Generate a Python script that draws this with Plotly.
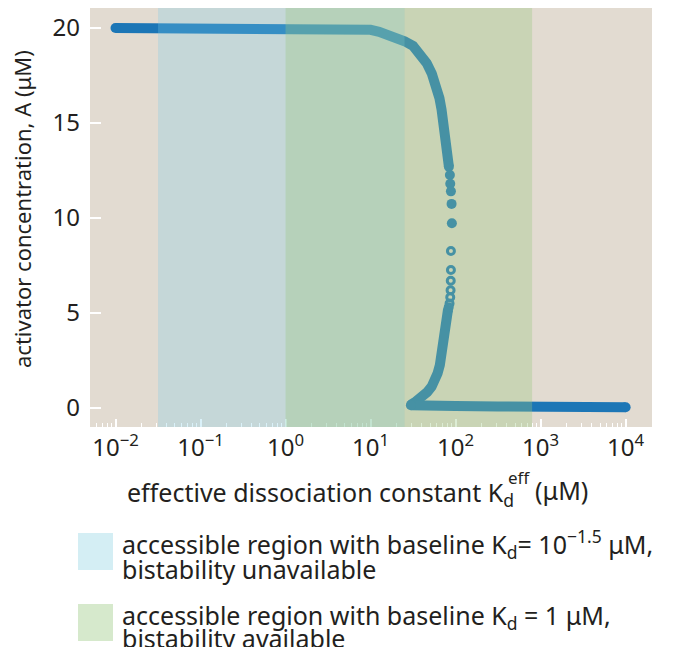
import plotly.graph_objects as go

# ---------------- data ----------------
# upper stable branch: effective Kd (uM) and activator A (uM)
upper_kd = [0.01, 0.1, 1.0, 3.16, 6.31, 10.0, 12.6, 15.8, 20.0, 25.1, 31.6, 38.0, 45.7,
            52.5, 59.7, 64.6, 68.4, 71.6, 74.8, 77.6, 80.5, 83.4]
upper_a = [20.0, 20.0, 20.0, 19.98, 19.95, 19.9, 19.8, 19.65, 19.5, 19.3, 19.05, 18.65, 18.15,
           17.6, 16.9, 16.3, 15.7, 15.1, 14.5, 13.9, 13.3, 12.7]
# sparse stable points approaching the upper fold
fold_kd = [85.7, 86.5, 88.1, 89.7, 90.4]
fold_a = [12.26, 11.8, 11.4, 10.74, 9.72]
# unstable branch, sparse open circles
unst_kd = [88.1, 88.1, 87.7, 87.3, 86.5, 84.9, 83.0]
unst_a = [8.26, 7.26, 6.7, 6.2, 5.83, 5.5, 5.3]
# unstable branch, dense part down to the lower fold
unst_dense_kd = [81.3, 78.3, 73.5, 68.4, 65.3, 61.4, 57.0, 52.2, 46.3, 41.6, 36.3, 33.1, 30.5, 29.8]
unst_dense_a = [5.16, 4.46, 3.58, 2.7, 2.26, 1.83, 1.47, 1.12, 0.83, 0.6, 0.42, 0.3, 0.2, 0.15]
# lower stable branch
lower_kd = [29.8, 39.8, 100.0, 316.0, 1000.0, 3160.0, 10000.0]
lower_a = [0.15, 0.12, 0.10, 0.08, 0.06, 0.05, 0.04]

# accessible regions (log10 of Kd bounds)
region_blue = [-1.5, 1.4]
region_green = [0.0, 2.9]

x_tick_vals = [0.01, 0.1, 1, 10, 100, 1000, 10000]
x_tick_text = ["10<sup>\u22122</sup>", "10<sup>\u22121</sup>", "10<sup>0</sup>", "10<sup>1</sup>",
               "10<sup>2</sup>", "10<sup>3</sup>", "10<sup>4</sup>"]
y_tick_vals = [0, 5, 10, 15, 20]

# ---------------- styling ----------------
FONT = "Noto Sans"
TXT = "#231f20"
CURVE = "#1c76b6"
BG = "#e2dbd1"
BIG = 24
LEG = 25

fig = go.Figure()

fig.add_trace(go.Scatter(x=upper_kd, y=upper_a, mode="lines",
                         line=dict(color=CURVE, width=10), showlegend=False))
fig.add_trace(go.Scatter(x=[upper_kd[0], upper_kd[-1]] + fold_kd, y=[upper_a[0], upper_a[-1]] + fold_a,
                         mode="markers", marker=dict(color=CURVE, size=10), showlegend=False))
fig.add_trace(go.Scatter(x=unst_dense_kd, y=unst_dense_a, mode="lines",
                         line=dict(color=CURVE, width=10), showlegend=False))
fig.add_trace(go.Scatter(x=unst_dense_kd[:1], y=unst_dense_a[:1], mode="markers",
                         marker=dict(color=CURVE, size=10), showlegend=False))
fig.add_trace(go.Scatter(x=unst_kd, y=unst_a, mode="markers",
                         marker=dict(symbol="circle-open", color=CURVE, size=7,
                                     line=dict(color=CURVE, width=3)), showlegend=False))
fig.add_trace(go.Scatter(x=lower_kd, y=lower_a, mode="lines",
                         line=dict(color=CURVE, width=10), showlegend=False))
fig.add_trace(go.Scatter(x=[lower_kd[0], lower_kd[-1]], y=[lower_a[0], lower_a[-1]], mode="markers",
                         marker=dict(color=CURVE, size=10), showlegend=False))

# shaded regions (drawn above the curve, translucent)
fig.add_shape(type="rect", xref="x", yref="paper", x0=10 ** region_blue[0], x1=10 ** region_blue[1],
              y0=0, y1=1, fillcolor="rgba(122,205,234,0.28)", line=dict(width=0), layer="above")
fig.add_shape(type="rect", xref="x", yref="paper", x0=10 ** region_green[0], x1=10 ** region_green[1],
              y0=0, y1=1, fillcolor="rgba(152,198,129,0.34)", line=dict(width=0), layer="above")

minor_vals = [k * 10 ** e for e in range(-3, 5) for k in range(2, 10)]

fig.update_xaxes(type="log", range=[-2.30, 4.31], tickmode="array", tickvals=x_tick_vals,
                 ticktext=x_tick_text, ticks="inside", ticklen=8, tickwidth=1.5, tickcolor="white",
                 showgrid=False, zeroline=False, showline=False, ticklabelstandoff=4,
                 tickfont=dict(family=FONT, size=BIG, color=TXT),
                 minor=dict(tickmode="array", tickvals=minor_vals, ticks="inside", ticklen=4,
                            tickwidth=1.2, tickcolor="white", showgrid=False))
fig.update_yaxes(range=[-1.0, 21.05], tickmode="array", tickvals=y_tick_vals,
                 ticks="inside", ticklen=11, tickwidth=1.5, tickcolor="white",
                 showgrid=False, zeroline=False, showline=False, ticklabelstandoff=9,
                 tickfont=dict(family=FONT, size=BIG, color=TXT))

L, R, T, B = 90, 28, 8, 220
W, H = 680, 647
pw, ph = W - L - R, H - T - B


def px(x):
    return (x - L) / pw


def py(y):
    return (H - B - y) / ph


ann = []
# y axis title
ann.append(dict(text="activator concentration, A (\u03bcM)", x=px(22), y=py(209), xref="paper",
                yref="paper", textangle=-90, showarrow=False, xanchor="center", yanchor="middle",
                font=dict(family=FONT, size=22, color=TXT)))
# x axis title pieces
ann.append(dict(text="effective dissociation constant K<sub>d</sub>", x=px(125), y=py(493),
                xref="paper", yref="paper", xanchor="left", yanchor="middle", showarrow=False,
                font=dict(family=FONT, size=LEG, color=TXT)))
ann.append(dict(text="eff", x=px(506), y=py(477), xref="paper", yref="paper", xanchor="left",
                yanchor="middle", showarrow=False, font=dict(family=FONT, size=17, color=TXT)))
ann.append(dict(text="(\u03bcM)", x=px(533), y=py(490), xref="paper", yref="paper", xanchor="left",
                yanchor="middle", showarrow=False, font=dict(family=FONT, size=LEG, color=TXT)))

# legend
legend_rows = [
    ("rgb(212,238,244)", 533, 570,
     "accessible region with baseline K<sub>d</sub>= 10<sup>\u22121.5</sup> \u03bcM,", 544,
     "bistability unavailable", 569),
    ("rgb(214,233,204)", 604, 641,
     "accessible region with baseline K<sub>d</sub> = 1 \u03bcM,", 616,
     "bistability available", 638),
]
for col, y0, y1, t1, ty1, t2, ty2 in legend_rows:
    fig.add_shape(type="rect", xref="paper", yref="paper", x0=px(78), x1=px(113), y0=py(y1), y1=py(y0),
                  fillcolor=col, line=dict(width=0))
    ann.append(dict(text=t1, x=px(120), y=py(ty1), xref="paper", yref="paper", xanchor="left",
                    yanchor="middle", showarrow=False, font=dict(family=FONT, size=LEG, color=TXT)))
    ann.append(dict(text=t2, x=px(120), y=py(ty2), xref="paper", yref="paper", xanchor="left",
                    yanchor="middle", showarrow=False, font=dict(family=FONT, size=LEG, color=TXT)))

fig.update_layout(width=W, height=H, margin=dict(l=L, r=R, t=T, b=B, pad=0),
                  plot_bgcolor=BG, paper_bgcolor="white", annotations=ann, showlegend=False,
                  font=dict(family=FONT, color=TXT))

fig.write_html("out.html")
